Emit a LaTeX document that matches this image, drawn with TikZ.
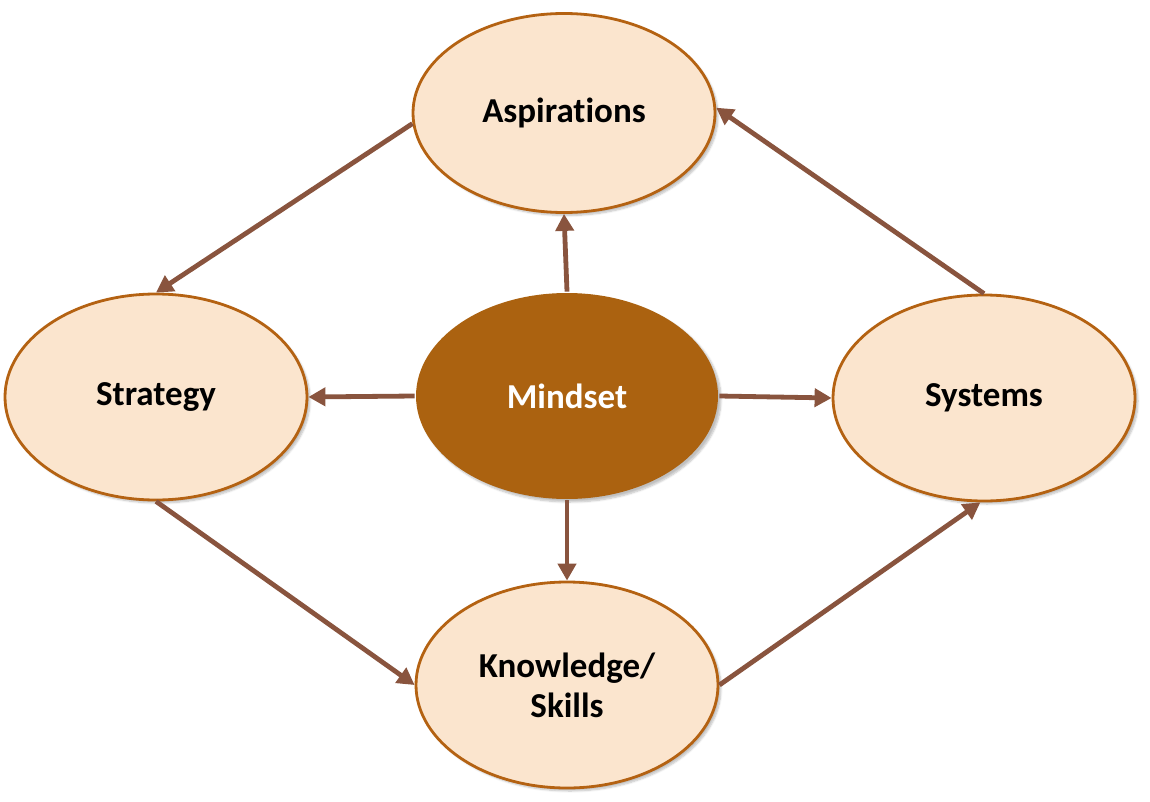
\documentclass[tikz,border=0pt]{standalone}
\usepackage{fontspec}
\setmainfont{Carlito}[Ligatures=NoCommon]
\usetikzlibrary{shapes.geometric,arrows.meta,shadows.blur}
\definecolor{ellfill}{RGB}{251,229,206}
\definecolor{ellline}{RGB}{180,98,18}
\definecolor{corefill}{RGB}{171,98,16}
\definecolor{arrowc}{RGB}{137,84,62}
\begin{document}
\begin{tikzpicture}[x=1pt,y=-1pt,
  bubble/.style={ellipse, draw=ellline, line width=2.8pt, fill=ellfill,
    minimum width=302pt, minimum height=206pt, inner sep=0pt,
    font=\fontsize{35}{40}\selectfont\bfseries, align=center,
    blur shadow={shadow xshift=3pt, shadow yshift=-3pt, shadow blur steps=6, shadow opacity=25}},
  core/.style={bubble, draw=none, fill=corefill, text=white},
  link/.style={draw=arrowc, line width=4.8pt, -{Triangle[length=17pt,width=18pt]}}]
\useasboundingbox (0,0) rectangle (1150,802);
\node[bubble, minimum height=199pt] (asp) at (564,113) {Aspirations};
\node[bubble] (str) at (156,397) {Strategy};
\node[core] (mind) at (567,396) {Mindset};
\node[bubble] (sys) at (984,398) {Systems};
\node[bubble] (kno) at (567,685) {Knowledge/\\Skills};
\draw[link] (asp.184) -- (str.north);
\draw[link] (sys.north) -- (asp.2);
\draw[link] (mind.north) -- (asp.south);
\draw[link] (mind.west) -- (str.east);
\draw[link] (mind.east) -- (sys.west);
\draw[link] (mind.south) -- (kno.north);
\draw[link] (str.south) -- (kno.west);
\draw[link] (kno.east) -- (sys.-92);
\end{tikzpicture}
\end{document}
